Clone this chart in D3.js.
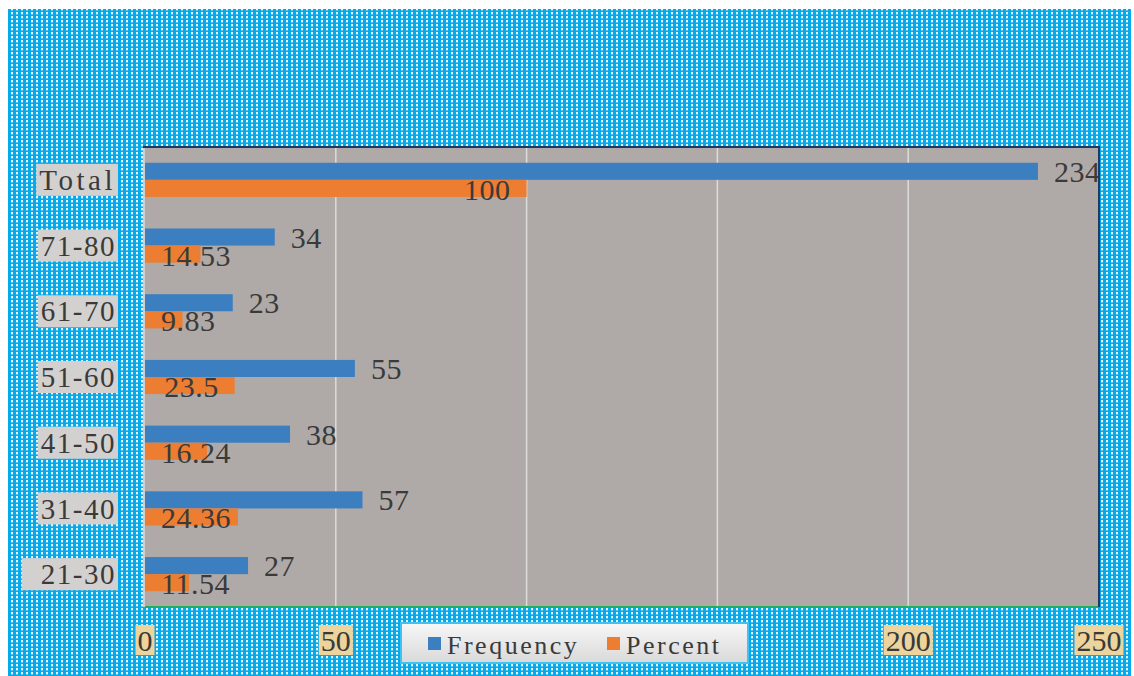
<!DOCTYPE html>
<html>
<head>
<meta charset="utf-8">
<script src="https://cdn.jsdelivr.net/npm/d3@7"></script>
<style>
  body { margin: 0; background: #fff; }
  text { font-family: "Liberation Serif", serif; fill: #3a3a3a; }
</style>
</head>
<body>
<div id="chart"></div>
<script>
const categories = ["Total", "71-80", "61-70", "51-60", "41-50", "31-40", "21-30"];
const frequency = [234, 34, 23, 55, 38, 57, 27];
const percent = [100, 14.53, 9.83, 23.5, 16.24, 24.36, 11.54];
const seriesNames = ["Frequency", "Percent"];
const xTicks = [0, 50, 100, 150, 200, 250];

const colors = { Frequency: "#3b7fc0", Percent: "#ed7d31" };

const W = 1134, H = 676;
const plot = { left: 145, right: 1099, top: 147, bottom: 607 };
const legendBox = { x: 401, y: 623, w: 347, h: 40 };

const svg = d3.select("#chart").append("svg")
  .attr("width", W)
  .attr("height", H);

const defs = svg.append("defs");

// dotted blue backdrop
const pat = defs.append("pattern")
  .attr("id", "dots")
  .attr("patternUnits", "userSpaceOnUse")
  .attr("width", 5)
  .attr("height", 4);
pat.append("rect").attr("width", 5).attr("height", 4).attr("fill", "#06a9ea");
pat.append("rect").attr("x", 1).attr("y", 0).attr("width", 2).attr("height", 2).attr("fill", "#fff").attr("opacity", 0.9);
pat.append("rect").attr("x", 1).attr("y", 2).attr("width", 2).attr("height", 1).attr("fill", "#fff").attr("opacity", 0.35);

const grad = defs.append("linearGradient")
  .attr("id", "legendGrad")
  .attr("x1", 0).attr("y1", 0).attr("x2", 0).attr("y2", 1);
grad.append("stop").attr("offset", "0%").attr("stop-color", "#f7f7f7");
grad.append("stop").attr("offset", "100%").attr("stop-color", "#d9d9d9");

svg.append("rect")
  .attr("x", 8).attr("y", 9)
  .attr("width", 1123).attr("height", 667)
  .attr("fill", "url(#dots)");

const x = d3.scaleLinear().domain([0, 250]).range([plot.left, plot.right]);
const y = d3.scaleBand().domain(categories)
  .range([plot.top, plot.bottom])
  .paddingInner(0.48).paddingOuter(0.24);
const ys = d3.scaleBand().domain(seriesNames).range([0, y.bandwidth()]);

// plot area
svg.append("rect")
  .attr("x", plot.left).attr("y", plot.top)
  .attr("width", plot.right - plot.left)
  .attr("height", plot.bottom - plot.top)
  .attr("fill", "#afaaa8");

svg.append("g")
  .selectAll("line")
  .data(xTicks.filter(t => t > 0 && t < 250))
  .join("line")
  .attr("x1", d => x(d)).attr("x2", d => x(d))
  .attr("y1", plot.top).attr("y2", plot.bottom)
  .attr("stroke", "#dcdcdc")
  .attr("stroke-width", 1.5);

// borders
svg.append("line").attr("x1", plot.left - 1).attr("x2", plot.left - 1)
  .attr("y1", plot.top).attr("y2", plot.bottom)
  .attr("stroke", "#cfcfcf").attr("stroke-width", 2);
svg.append("line").attr("x1", plot.left).attr("x2", plot.right)
  .attr("y1", plot.bottom).attr("y2", plot.bottom)
  .attr("stroke", "#1fae5c").attr("stroke-width", 2);
svg.append("line").attr("x1", plot.left - 2).attr("x2", plot.right + 1)
  .attr("y1", plot.top).attr("y2", plot.top)
  .attr("stroke", "#1f3864").attr("stroke-width", 2);
svg.append("line").attr("x1", plot.right).attr("x2", plot.right)
  .attr("y1", plot.top).attr("y2", plot.bottom)
  .attr("stroke", "#1f3864").attr("stroke-width", 2);

const rows = categories.map((c, i) => ({ cat: c, Frequency: frequency[i], Percent: percent[i] }));

const groups = svg.append("g")
  .selectAll("g")
  .data(rows)
  .join("g")
  .attr("transform", d => `translate(0,${y(d.cat)})`);

groups.selectAll("rect")
  .data(d => seriesNames.map(s => ({ s, v: d[s] })))
  .join("rect")
  .attr("x", x(0))
  .attr("y", d => ys(d.s))
  .attr("width", d => x(d.v) - x(0))
  .attr("height", ys.bandwidth())
  .attr("fill", d => colors[d.s]);

// frequency labels (outside end)
groups.append("text")
  .attr("x", d => x(d.Frequency) + 16)
  .attr("y", ys("Frequency") + ys.bandwidth() / 2)
  .attr("dy", "0.35em")
  .style("font-size", "30px")
  .style("letter-spacing", "0.5px")
  .text(d => d.Frequency);

// percent labels (inside end, pushed right when too long)
groups.append("text")
  .attr("y", ys("Percent") + ys.bandwidth() / 2 + 1)
  .attr("dy", "0.35em")
  .style("font-size", "30px")
  .style("letter-spacing", "0.5px")
  .text(d => d.Percent)
  .each(function(d) {
    const w = this.getComputedTextLength();
    const end = x(d.Percent) - 16;
    d3.select(this).attr("x", Math.max(end - w, 161));
  });

// category labels with grey boxes
const catG = svg.append("g");
categories.forEach(c => {
  const cy = y(c) + y.bandwidth() / 2;
  const t = catG.append("text")
    .attr("x", 116)
    .attr("y", cy)
    .attr("dy", "0.35em")
    .attr("text-anchor", "end")
    .style("font-size", "29px")
    .style("letter-spacing", c === "Total" ? "3.5px" : "1.5px")
    .text(c);
  const b = t.node().getBBox();
  const extra = c === "21-30" ? 16 : 0;
  catG.insert("rect", "text")
    .attr("x", b.x - 3 - extra).attr("y", cy - 16)
    .attr("width", b.width + 5 + extra).attr("height", 32)
    .attr("fill", "#d3d0d0");
});

// x tick labels with tan boxes (the legend sits over 100 and 150)
const tickG = svg.append("g");
xTicks
  .filter(t => x(t) < legendBox.x - 20 || x(t) > legendBox.x + legendBox.w + 20)
  .forEach(t => {
    const tx = tickG.append("text")
      .attr("x", x(t))
      .attr("y", 640)
      .attr("dy", "0.35em")
      .attr("text-anchor", "middle")
      .style("font-size", "30px")
      .text(t);
    const b = tx.node().getBBox();
    tickG.insert("rect", "text")
      .attr("x", b.x - 2).attr("y", 625)
      .attr("width", b.width + 4).attr("height", 30)
      .attr("fill", "#ecd49c");
  });

// legend
const lg = svg.append("g");
lg.append("rect")
  .attr("x", legendBox.x).attr("y", legendBox.y)
  .attr("width", legendBox.w).attr("height", legendBox.h)
  .attr("fill", "url(#legendGrad)")
  .attr("stroke", "#3fc2f2")
  .attr("stroke-width", 2);

const legendItems = [
  { name: "Frequency", sx: 428, tx: 447 },
  { name: "Percent", sx: 607, tx: 626 }
];
legendItems.forEach(li => {
  lg.append("rect")
    .attr("x", li.sx).attr("y", 637)
    .attr("width", 13).attr("height", 13)
    .attr("fill", colors[li.name]);
  lg.append("text")
    .attr("x", li.tx).attr("y", 645)
    .attr("dy", "0.35em")
    .style("font-size", "26px")
    .style("letter-spacing", "2.5px")
    .text(li.name);
});
</script>
</body>
</html>
